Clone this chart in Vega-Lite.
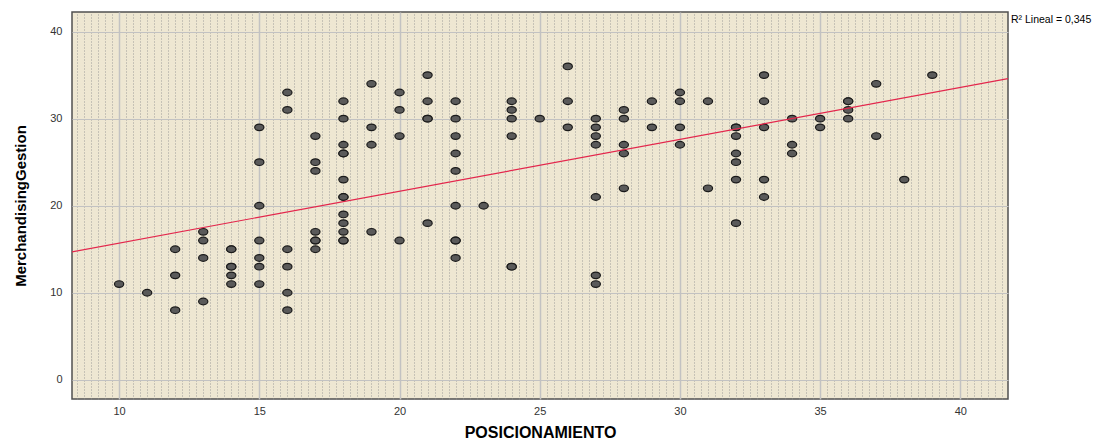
{
  "$schema": "https://vega.github.io/schema/vega-lite/v6.json",
  "width": 936,
  "height": 387,
  "autosize": {"type": "none"},
  "padding": {"left": 72, "top": 12, "right": 112, "bottom": 45},
  "background": "white",
  "config": {
    "view": {"fill": "#EEE7D2", "stroke": "#505050", "strokeWidth": 1.5},
    "font": "Liberation Sans"
  },
  "datasets": {
    "pts": [
      {"POSICIONAMIENTO": 10, "MerchandisingGestion": 11},
      {"POSICIONAMIENTO": 11, "MerchandisingGestion": 10},
      {"POSICIONAMIENTO": 12, "MerchandisingGestion": 15},
      {"POSICIONAMIENTO": 12, "MerchandisingGestion": 12},
      {"POSICIONAMIENTO": 12, "MerchandisingGestion": 8},
      {"POSICIONAMIENTO": 13, "MerchandisingGestion": 17},
      {"POSICIONAMIENTO": 13, "MerchandisingGestion": 16},
      {"POSICIONAMIENTO": 13, "MerchandisingGestion": 14},
      {"POSICIONAMIENTO": 13, "MerchandisingGestion": 9},
      {"POSICIONAMIENTO": 14, "MerchandisingGestion": 15},
      {"POSICIONAMIENTO": 14, "MerchandisingGestion": 15},
      {"POSICIONAMIENTO": 14, "MerchandisingGestion": 13},
      {"POSICIONAMIENTO": 14, "MerchandisingGestion": 13},
      {"POSICIONAMIENTO": 14, "MerchandisingGestion": 12},
      {"POSICIONAMIENTO": 14, "MerchandisingGestion": 11},
      {"POSICIONAMIENTO": 15, "MerchandisingGestion": 29},
      {"POSICIONAMIENTO": 15, "MerchandisingGestion": 25},
      {"POSICIONAMIENTO": 15, "MerchandisingGestion": 20},
      {"POSICIONAMIENTO": 15, "MerchandisingGestion": 16},
      {"POSICIONAMIENTO": 15, "MerchandisingGestion": 14},
      {"POSICIONAMIENTO": 15, "MerchandisingGestion": 13},
      {"POSICIONAMIENTO": 15, "MerchandisingGestion": 11},
      {"POSICIONAMIENTO": 16, "MerchandisingGestion": 33},
      {"POSICIONAMIENTO": 16, "MerchandisingGestion": 31},
      {"POSICIONAMIENTO": 16, "MerchandisingGestion": 15},
      {"POSICIONAMIENTO": 16, "MerchandisingGestion": 13},
      {"POSICIONAMIENTO": 16, "MerchandisingGestion": 10},
      {"POSICIONAMIENTO": 16, "MerchandisingGestion": 8},
      {"POSICIONAMIENTO": 17, "MerchandisingGestion": 28},
      {"POSICIONAMIENTO": 17, "MerchandisingGestion": 25},
      {"POSICIONAMIENTO": 17, "MerchandisingGestion": 24},
      {"POSICIONAMIENTO": 17, "MerchandisingGestion": 17},
      {"POSICIONAMIENTO": 17, "MerchandisingGestion": 16},
      {"POSICIONAMIENTO": 17, "MerchandisingGestion": 16},
      {"POSICIONAMIENTO": 17, "MerchandisingGestion": 15},
      {"POSICIONAMIENTO": 18, "MerchandisingGestion": 32},
      {"POSICIONAMIENTO": 18, "MerchandisingGestion": 30},
      {"POSICIONAMIENTO": 18, "MerchandisingGestion": 27},
      {"POSICIONAMIENTO": 18, "MerchandisingGestion": 26},
      {"POSICIONAMIENTO": 18, "MerchandisingGestion": 26},
      {"POSICIONAMIENTO": 18, "MerchandisingGestion": 23},
      {"POSICIONAMIENTO": 18, "MerchandisingGestion": 21},
      {"POSICIONAMIENTO": 18, "MerchandisingGestion": 21},
      {"POSICIONAMIENTO": 18, "MerchandisingGestion": 19},
      {"POSICIONAMIENTO": 18, "MerchandisingGestion": 18},
      {"POSICIONAMIENTO": 18, "MerchandisingGestion": 17},
      {"POSICIONAMIENTO": 18, "MerchandisingGestion": 16},
      {"POSICIONAMIENTO": 18, "MerchandisingGestion": 16},
      {"POSICIONAMIENTO": 19, "MerchandisingGestion": 34},
      {"POSICIONAMIENTO": 19, "MerchandisingGestion": 29},
      {"POSICIONAMIENTO": 19, "MerchandisingGestion": 27},
      {"POSICIONAMIENTO": 19, "MerchandisingGestion": 17},
      {"POSICIONAMIENTO": 20, "MerchandisingGestion": 33},
      {"POSICIONAMIENTO": 20, "MerchandisingGestion": 31},
      {"POSICIONAMIENTO": 20, "MerchandisingGestion": 28},
      {"POSICIONAMIENTO": 20, "MerchandisingGestion": 16},
      {"POSICIONAMIENTO": 21, "MerchandisingGestion": 35},
      {"POSICIONAMIENTO": 21, "MerchandisingGestion": 32},
      {"POSICIONAMIENTO": 21, "MerchandisingGestion": 30},
      {"POSICIONAMIENTO": 21, "MerchandisingGestion": 30},
      {"POSICIONAMIENTO": 21, "MerchandisingGestion": 18},
      {"POSICIONAMIENTO": 22, "MerchandisingGestion": 32},
      {"POSICIONAMIENTO": 22, "MerchandisingGestion": 30},
      {"POSICIONAMIENTO": 22, "MerchandisingGestion": 28},
      {"POSICIONAMIENTO": 22, "MerchandisingGestion": 26},
      {"POSICIONAMIENTO": 22, "MerchandisingGestion": 24},
      {"POSICIONAMIENTO": 22, "MerchandisingGestion": 20},
      {"POSICIONAMIENTO": 22, "MerchandisingGestion": 16},
      {"POSICIONAMIENTO": 22, "MerchandisingGestion": 16},
      {"POSICIONAMIENTO": 22, "MerchandisingGestion": 14},
      {"POSICIONAMIENTO": 23, "MerchandisingGestion": 20},
      {"POSICIONAMIENTO": 24, "MerchandisingGestion": 32},
      {"POSICIONAMIENTO": 24, "MerchandisingGestion": 31},
      {"POSICIONAMIENTO": 24, "MerchandisingGestion": 30},
      {"POSICIONAMIENTO": 24, "MerchandisingGestion": 28},
      {"POSICIONAMIENTO": 24, "MerchandisingGestion": 13},
      {"POSICIONAMIENTO": 24, "MerchandisingGestion": 13},
      {"POSICIONAMIENTO": 25, "MerchandisingGestion": 30},
      {"POSICIONAMIENTO": 26, "MerchandisingGestion": 36},
      {"POSICIONAMIENTO": 26, "MerchandisingGestion": 32},
      {"POSICIONAMIENTO": 26, "MerchandisingGestion": 29},
      {"POSICIONAMIENTO": 27, "MerchandisingGestion": 30},
      {"POSICIONAMIENTO": 27, "MerchandisingGestion": 29},
      {"POSICIONAMIENTO": 27, "MerchandisingGestion": 28},
      {"POSICIONAMIENTO": 27, "MerchandisingGestion": 27},
      {"POSICIONAMIENTO": 27, "MerchandisingGestion": 21},
      {"POSICIONAMIENTO": 27, "MerchandisingGestion": 12},
      {"POSICIONAMIENTO": 27, "MerchandisingGestion": 11},
      {"POSICIONAMIENTO": 28, "MerchandisingGestion": 31},
      {"POSICIONAMIENTO": 28, "MerchandisingGestion": 30},
      {"POSICIONAMIENTO": 28, "MerchandisingGestion": 27},
      {"POSICIONAMIENTO": 28, "MerchandisingGestion": 26},
      {"POSICIONAMIENTO": 28, "MerchandisingGestion": 22},
      {"POSICIONAMIENTO": 29, "MerchandisingGestion": 32},
      {"POSICIONAMIENTO": 29, "MerchandisingGestion": 29},
      {"POSICIONAMIENTO": 30, "MerchandisingGestion": 33},
      {"POSICIONAMIENTO": 30, "MerchandisingGestion": 32},
      {"POSICIONAMIENTO": 30, "MerchandisingGestion": 29},
      {"POSICIONAMIENTO": 30, "MerchandisingGestion": 27},
      {"POSICIONAMIENTO": 31, "MerchandisingGestion": 32},
      {"POSICIONAMIENTO": 31, "MerchandisingGestion": 22},
      {"POSICIONAMIENTO": 32, "MerchandisingGestion": 29},
      {"POSICIONAMIENTO": 32, "MerchandisingGestion": 29},
      {"POSICIONAMIENTO": 32, "MerchandisingGestion": 28},
      {"POSICIONAMIENTO": 32, "MerchandisingGestion": 26},
      {"POSICIONAMIENTO": 32, "MerchandisingGestion": 25},
      {"POSICIONAMIENTO": 32, "MerchandisingGestion": 23},
      {"POSICIONAMIENTO": 32, "MerchandisingGestion": 18},
      {"POSICIONAMIENTO": 33, "MerchandisingGestion": 35},
      {"POSICIONAMIENTO": 33, "MerchandisingGestion": 32},
      {"POSICIONAMIENTO": 33, "MerchandisingGestion": 29},
      {"POSICIONAMIENTO": 33, "MerchandisingGestion": 23},
      {"POSICIONAMIENTO": 33, "MerchandisingGestion": 21},
      {"POSICIONAMIENTO": 34, "MerchandisingGestion": 30},
      {"POSICIONAMIENTO": 34, "MerchandisingGestion": 27},
      {"POSICIONAMIENTO": 34, "MerchandisingGestion": 26},
      {"POSICIONAMIENTO": 35, "MerchandisingGestion": 30},
      {"POSICIONAMIENTO": 35, "MerchandisingGestion": 29},
      {"POSICIONAMIENTO": 36, "MerchandisingGestion": 32},
      {"POSICIONAMIENTO": 36, "MerchandisingGestion": 32},
      {"POSICIONAMIENTO": 36, "MerchandisingGestion": 31},
      {"POSICIONAMIENTO": 36, "MerchandisingGestion": 30},
      {"POSICIONAMIENTO": 37, "MerchandisingGestion": 34},
      {"POSICIONAMIENTO": 37, "MerchandisingGestion": 28},
      {"POSICIONAMIENTO": 38, "MerchandisingGestion": 23},
      {"POSICIONAMIENTO": 39, "MerchandisingGestion": 35}
    ]
  },
  "resolve": {"axis": {"x": "independent"}},
  "layer": [
    {
      "data": {"name": "pts"},
      "mark": {"type": "point", "opacity": 0},
      "encoding": {
        "x": {
          "field": "POSICIONAMIENTO", "type": "quantitative",
          "scale": {"domain": [8.32, 41.7], "nice": false, "zero": false},
          "axis": {
            "orient": "top",
            "values": [8.5,8.75,9,9.25,9.5,9.75,10.25,10.5,10.75,11,11.25,11.5,11.75,12,12.25,12.5,12.75,13,13.25,13.5,13.75,14,14.25,14.5,14.75,15.25,15.5,15.75,16,16.25,16.5,16.75,17,17.25,17.5,17.75,18,18.25,18.5,18.75,19,19.25,19.5,19.75,20.25,20.5,20.75,21,21.25,21.5,21.75,22,22.25,22.5,22.75,23,23.25,23.5,23.75,24,24.25,24.5,24.75,25.25,25.5,25.75,26,26.25,26.5,26.75,27,27.25,27.5,27.75,28,28.25,28.5,28.75,29,29.25,29.5,29.75,30.25,30.5,30.75,31,31.25,31.5,31.75,32,32.25,32.5,32.75,33,33.25,33.5,33.75,34,34.25,34.5,34.75,35.25,35.5,35.75,36,36.25,36.5,36.75,37,37.25,37.5,37.75,38,38.25,38.5,38.75,39,39.25,39.5,39.75,40.25,40.5,40.75,41,41.25,41.5],
            "grid": true, "gridColor": "#8f8f8f", "gridDash": [1, 2], "gridWidth": 1, "gridOpacity": 0.85,
            "labels": false, "ticks": false, "domain": false, "title": null
          }
        },
        "y": {
          "field": "MerchandisingGestion", "type": "quantitative",
          "scale": {"domain": [-2.2, 42.25], "nice": false, "zero": false},
          "axis": {
            "values": [0, 10, 20, 30, 40],
            "grid": true, "gridColor": "#c2c2c2", "gridWidth": 1,
            "ticks": false, "domain": false,
            "labelFont": "Liberation Sans", "labelFontSize": 11, "labelColor": "#333333", "labelPadding": 10,
            "title": "MerchandisingGestion",
            "titleFont": "Liberation Sans", "titleFontSize": 15, "titleFontWeight": "bold", "titleColor": "#000000", "titlePadding": 21
          }
        }
      }
    },
    {
      "data": {"name": "pts"},
      "mark": {"type": "point", "shape": "M -1 0 A 1 0.72 0 1 0 1 0 A 1 0.72 0 1 0 -1 0 Z", "size": 85, "filled": true, "fill": "#5a5a5a", "stroke": "#1a1a1a", "strokeWidth": 1.2, "opacity": 1},
      "encoding": {
        "x": {
          "field": "POSICIONAMIENTO", "type": "quantitative",
          "axis": {
            "orient": "bottom",
            "values": [10, 15, 20, 25, 30, 35, 40],
            "grid": true, "gridColor": "#c2c2c2", "gridWidth": 1.5,
            "ticks": false, "domain": false,
            "labelFont": "Liberation Sans", "labelFontSize": 11, "labelColor": "#333333", "labelPadding": 6,
            "title": "POSICIONAMIENTO",
            "titleFont": "Liberation Sans", "titleFontSize": 16, "titleFontWeight": "bold", "titleColor": "#000000", "titlePadding": 8
          }
        },
        "y": {"field": "MerchandisingGestion", "type": "quantitative"}
      }
    },
    {
      "data": {"name": "pts"},
      "transform": [{"regression": "MerchandisingGestion", "on": "POSICIONAMIENTO", "extent": [8.32, 41.7]}],
      "mark": {"type": "line", "color": "#E3264C", "strokeWidth": 1.2, "clip": true},
      "encoding": {
        "x": {"field": "POSICIONAMIENTO", "type": "quantitative", "axis": null},
        "y": {"field": "MerchandisingGestion", "type": "quantitative"}
      }
    },
    {
      "data": {"values": [{"label": "R² Lineal = 0,345"}]},
      "mark": {"type": "text", "align": "left", "baseline": "middle", "dx": 3, "fontSize": 10.5, "font": "Liberation Sans", "color": "#000000"},
      "encoding": {
        "x": {"datum": 41.7, "type": "quantitative", "axis": null},
        "y": {"datum": 41.3, "type": "quantitative"},
        "text": {"field": "label"}
      }
    }
  ]
}
